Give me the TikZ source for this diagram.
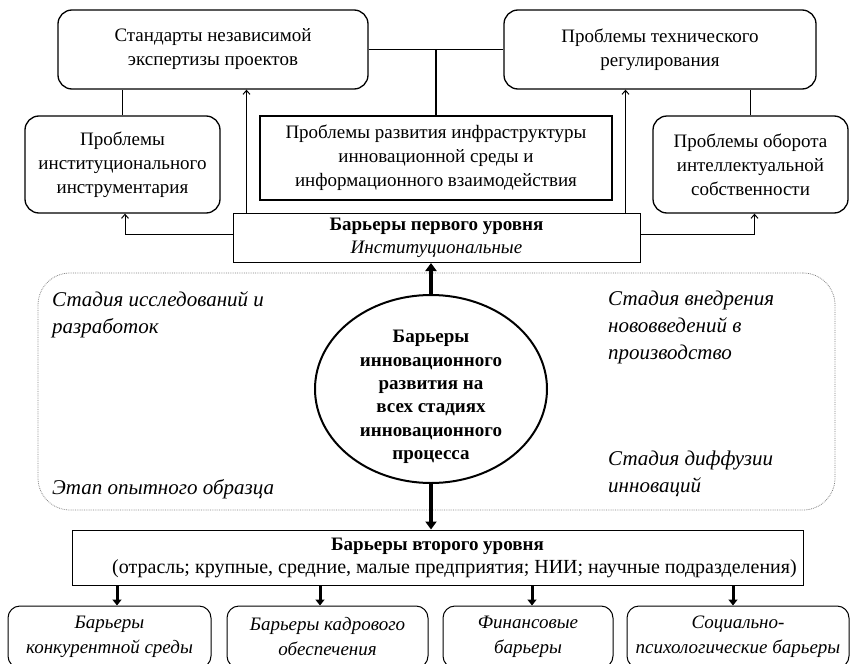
\documentclass[tikz,border=0pt]{standalone}
\usepackage{fontspec}
\setmainfont{Liberation Serif}
\usetikzlibrary{arrows.meta,shapes.geometric}
\tikzset{
  rbox/.style={draw, rounded corners=14pt, line width=1.3pt, fill=white, align=center, inner sep=0pt,
    font=\fontsize{19}{24}\selectfont},
  sbox/.style={draw, line width=2pt, fill=white, align=center, inner sep=0pt,
    font=\fontsize{19}{24}\selectfont},
  lbox/.style={draw, line width=1pt, fill=white, align=center, inner sep=0pt,
    font=\fontsize{19}{23}\selectfont},
  bbox/.style={draw, rounded corners=12pt, line width=1pt, fill=white, align=center, inner sep=0pt,
    font=\fontsize{19}{25}\selectfont\itshape},
  stage/.style={anchor=north west, align=left, inner sep=0pt, font=\fontsize{21}{27}\selectfont\itshape},
  thinarr/.style={line width=1pt, -{Straight Barb[length=4pt,width=7pt]}},
  conn/.style={line width=1.3pt},
  thickarr/.style={line width=3.5pt, -{Triangle[length=8pt,width=11pt]}},
  midarr/.style={line width=3pt, -{Triangle[length=6pt,width=9pt]}},
}
\begin{document}
\begin{tikzpicture}[x=1pt,y=-1pt]
\useasboundingbox (0,0) rectangle (863,664);
\clip (0,0) rectangle (863,664);

% dotted zone
\node[draw, densely dotted, gray, line width=0.8pt, rounded corners=32pt, minimum width=797pt, minimum height=237pt] (zone) at (436.5,391.5) {};

% top boxes
\node[rbox, minimum width=310pt, minimum height=79pt] (std) at (213,49.5) {Стандарты независимой\\экспертизы проектов};
\node[rbox, minimum width=312pt, minimum height=79pt] (tech) at (660,49.5) {Проблемы технического\\регулирования};
\node[rbox, minimum width=195pt, minimum height=97pt] (inst) at (122.5,164.5) {Проблемы\\институционального\\инструментария};
\node[sbox, minimum width=352pt, minimum height=84pt] (infra) at (436,158) {Проблемы развития инфраструктуры\\инновационной среды и\\информационного взаимодействия};
\node[rbox, minimum width=195pt, minimum height=97pt] (ip) at (750.5,164.5) {Проблемы оборота\\интеллектуальной\\собственности};
\node[lbox, minimum width=407pt, minimum height=49pt] (lvl1) at (436.5,238) {\textbf{Барьеры первого уровня}\\\textit{Институциональные}};

% connectors between top boxes
\draw[conn] (std) -- (tech);
\draw[conn] (infra.north) -- (infra.north |- std.east);
\draw[conn] (inst.north) -- (inst.north |- std.south);
\draw[conn] (ip.north) -- (ip.north |- tech.south);

% arrows from first level
\draw[thinarr] ([yshift=3.5pt]lvl1.west) -| ([xshift=2.5pt]inst.south);
\draw[thinarr] ([yshift=3.5pt]lvl1.east) -| ([xshift=4pt]ip.south);
\draw[thinarr] ([xshift=14pt]lvl1.north west) -- ([xshift=14pt]lvl1.north west |- std.south);
\draw[thinarr] ([xshift=-15pt]lvl1.north east) -- ([xshift=-15pt]lvl1.north east |- tech.south);

% stage labels
\node[stage] (s1) at (52,291) {Стадия исследований и\\разработок};
\node[stage] (s2) at (608,291) {Стадия внедрения\\нововведений в\\производство};
\node[stage] (s3) at (608,451) {Стадия диффузии\\инноваций};
\node[stage] (s4) at (52,479) {Этап опытного образца};

% central ellipse
\node[ellipse, draw, line width=2pt, fill=white, minimum width=232pt, minimum height=188pt, inner sep=0pt] (ell) at (431,389) {};
\node[align=center, inner sep=0pt, font=\fontsize{19}{23.4}\selectfont\bfseries] (elltext) at (431,397)
  {Барьеры\\инновационного\\развития на\\всех стадиях\\инновационного\\процесса};

% second level
\node[lbox, minimum width=731pt, minimum height=55pt] (lvl2) at (437.5,557.5) {\textbf{Барьеры второго уровня}\\\hspace*{34pt}{\fontsize{20}{23}\selectfont(отрасль; крупные, средние, малые предприятия; НИИ; научные подразделения)}};

\draw[thickarr] (ell.north) -- (ell.north |- lvl1.south);
\draw[thickarr] (ell.south) -- (ell.south |- lvl2.north);

% bottom boxes
\node[bbox, minimum width=203pt, minimum height=62pt] (b1) at (109.5,637) {Барьеры\\конкурентной среды};
\node[bbox, minimum width=201pt, minimum height=62pt] (b2) at (327.5,637) {Барьеры кадрового\\обеспечения};
\node[bbox, minimum width=170pt, minimum height=62pt] (b3) at (528,637) {Финансовые\\барьеры};
\node[bbox, minimum width=222pt, minimum height=62pt] (b4) at (738,637) {Социально-\\психологические барьеры};

\draw[midarr] ([xshift=7.5pt]b1.north |- lvl2.south) -- ([xshift=7.5pt]b1.north);
\draw[midarr] ([xshift=-7.5pt]b2.north |- lvl2.south) -- ([xshift=-7.5pt]b2.north);
\draw[midarr] ([xshift=4pt]b3.north |- lvl2.south) -- ([xshift=4pt]b3.north);
\draw[midarr] ([xshift=-5pt]b4.north |- lvl2.south) -- ([xshift=-5pt]b4.north);
\end{tikzpicture}
\end{document}
